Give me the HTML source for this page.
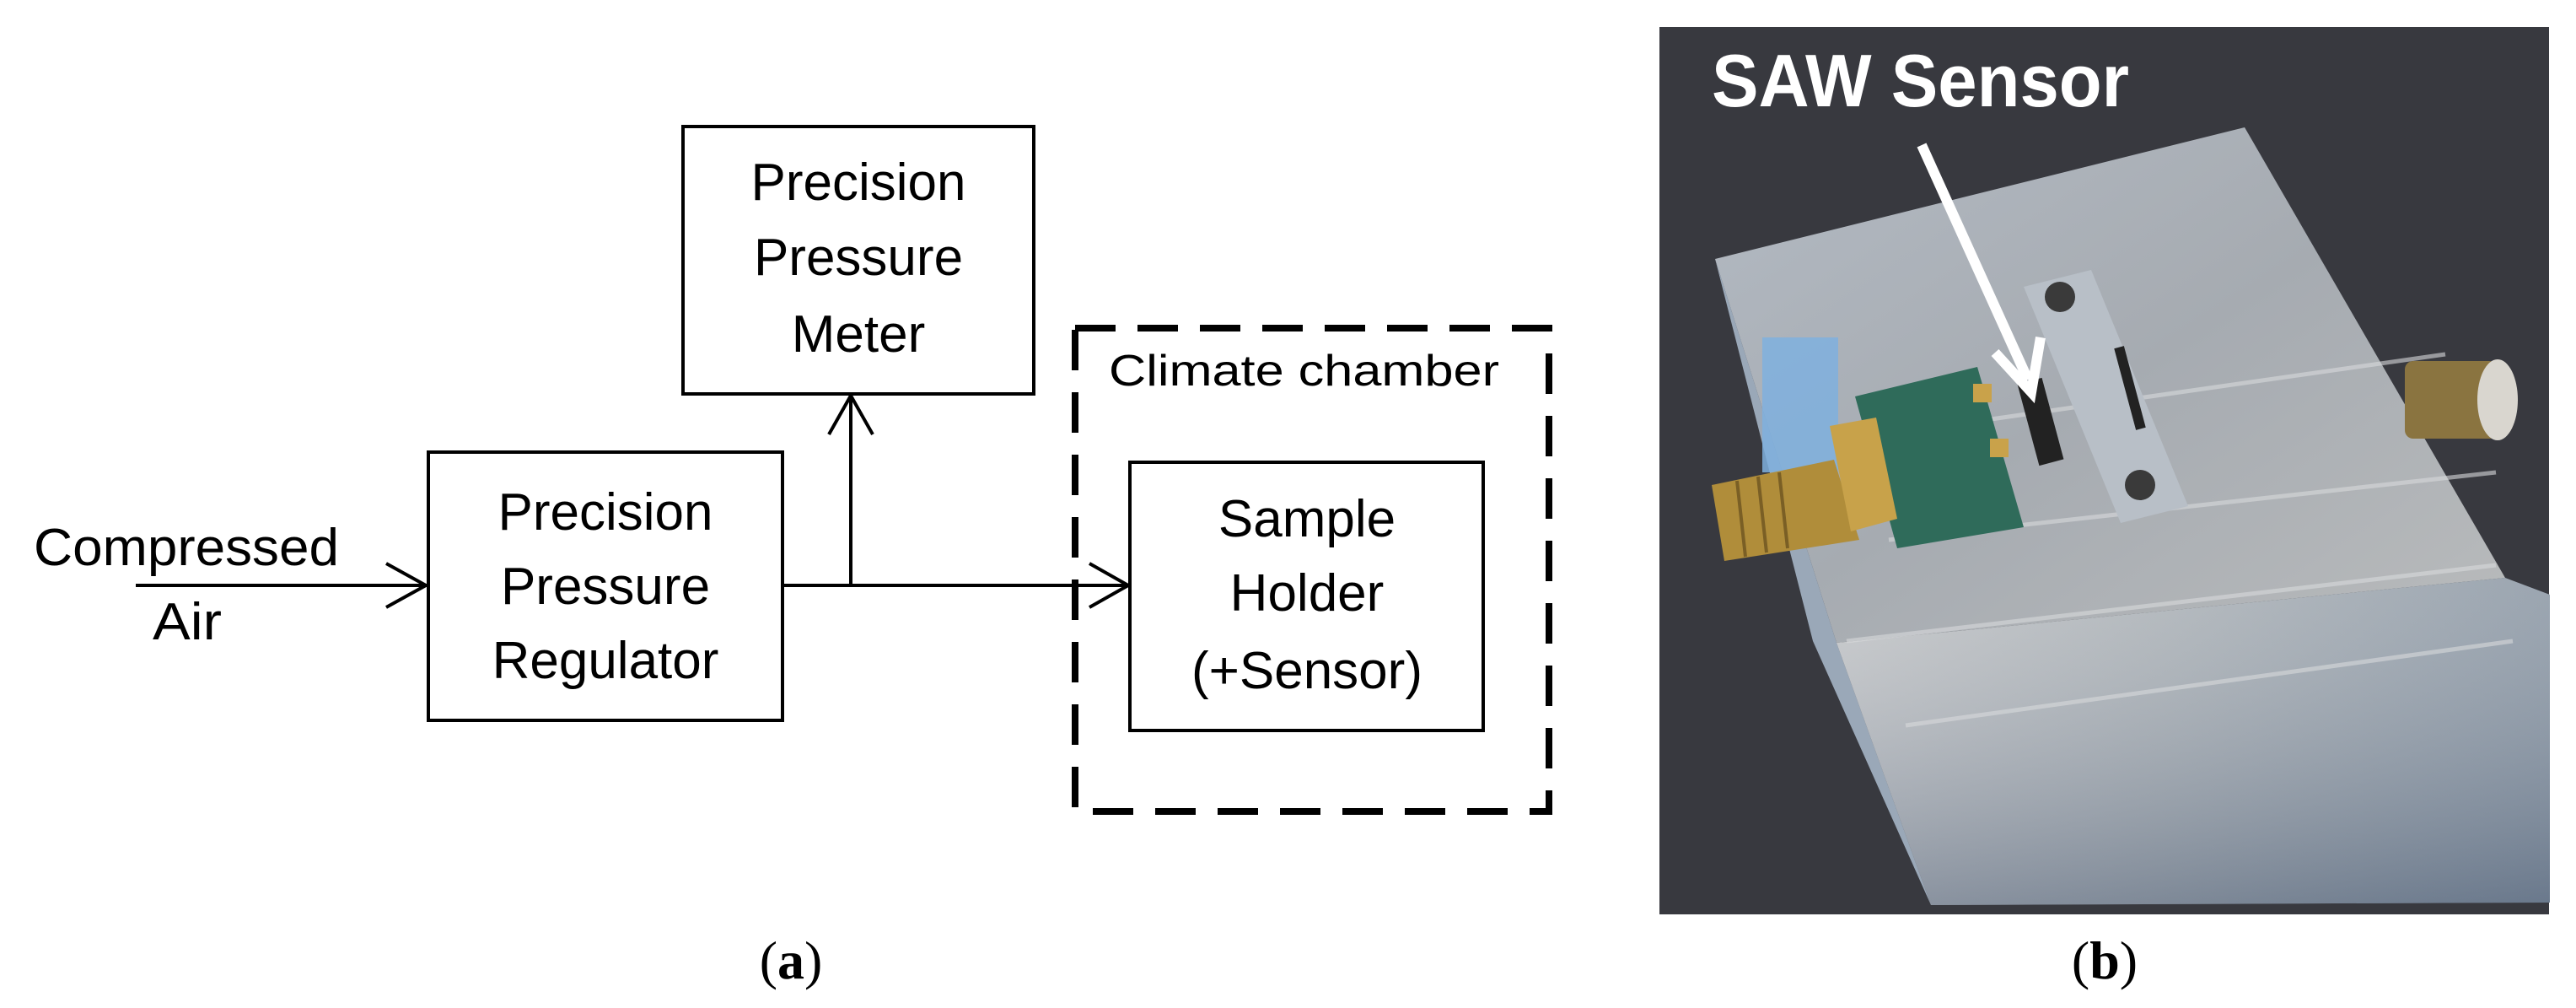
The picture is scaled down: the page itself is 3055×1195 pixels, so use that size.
<!DOCTYPE html>
<html><head><meta charset="utf-8"><style>
html,body{margin:0;padding:0;background:#fff;width:3055px;height:1195px;overflow:hidden}
svg{display:block}
.t{font-family:"Liberation Sans",sans-serif;font-size:62px;fill:#000}
</style></head><body>
<svg width="3055" height="1195" viewBox="0 0 3055 1195" xmlns="http://www.w3.org/2000/svg">
<rect width="3055" height="1195" fill="#fff"/>
<g fill="none" stroke="#000" stroke-width="4">
<rect x="810" y="150" width="416" height="317"/>
<rect x="508" y="536" width="420" height="318"/>
<rect x="1340" y="548" width="419" height="318"/>
<line x1="161" y1="694" x2="506" y2="694"/>
<polyline points="458,668 505,694 458,720"/>
<line x1="928" y1="694" x2="1338" y2="694"/>
<polyline points="1292,668 1338,694 1292,720"/>
<line x1="1009" y1="694" x2="1009" y2="469"/>
<polyline points="983,515 1009,469 1035,515"/>
<rect x="1275" y="389" width="562" height="573" stroke-width="8" stroke-dasharray="48,26"/>
</g>
<text class="t" x="40" y="670" textLength="362" lengthAdjust="spacingAndGlyphs">Compressed</text>
<text class="t" x="181" y="758" textLength="82" lengthAdjust="spacingAndGlyphs">Air</text>
<g class="t" text-anchor="middle">
<text class="t" x="1018" y="237">Precision</text>
<text class="t" x="1018" y="326">Pressure</text>
<text class="t" x="1018" y="417">Meter</text>
<text class="t" x="718" y="628">Precision</text>
<text class="t" x="718" y="716">Pressure</text>
<text class="t" x="718" y="804">Regulator</text>
<text class="t" x="1550" y="636">Sample</text>
<text class="t" x="1550" y="724">Holder</text>
<text class="t" x="1550" y="816">(+Sensor)</text>
</g>
<text class="t" x="1315" y="457" style="font-size:52px" textLength="463" lengthAdjust="spacingAndGlyphs">Climate chamber</text>
<text x="938" y="1160" text-anchor="middle" style="font-family:'Liberation Serif',serif;font-size:64px">(<tspan font-weight="bold">a</tspan>)</text>
<text x="2496" y="1160" text-anchor="middle" style="font-family:'Liberation Serif',serif;font-size:64px">(<tspan font-weight="bold">b</tspan>)</text>

<!-- photo -->
<defs>
<linearGradient id="top" x1="0" y1="0" x2="1" y2="1">
<stop offset="0" stop-color="#b3bac3"/><stop offset="0.5" stop-color="#a6abb1"/><stop offset="1" stop-color="#b9bbbc"/>
</linearGradient>
<linearGradient id="front" x1="0" y1="0" x2="1" y2="0">
<stop offset="0" stop-color="#c2c4c6"/><stop offset="0.45" stop-color="#aab0b5"/><stop offset="1" stop-color="#8a96a3"/>
</linearGradient>
<linearGradient id="frontv" x1="0" y1="0" x2="0" y2="1">
<stop offset="0" stop-color="#ffffff" stop-opacity="0.15"/><stop offset="1" stop-color="#2c4060" stop-opacity="0.35"/>
</linearGradient>
</defs>
<rect x="1968" y="32" width="1055" height="1052" fill="#38393f"/>
<polygon points="2034,307 2662,151 2971,685 2178,762" fill="url(#top)"/>
<polygon points="2034,307 2178,762 2290,1073 2150,760" fill="#9aa8b8"/>
<polygon points="2178,762 2971,685 3024,705 3024,1070 2290,1073" fill="url(#front)"/>
<polygon points="2178,762 2971,685 3024,705 3024,1070 2290,1073" fill="url(#frontv)"/>
<g stroke="#d8dadc" stroke-width="5" opacity="0.6">
<line x1="2200" y1="520" x2="2900" y2="420"/>
<line x1="2240" y1="640" x2="2960" y2="560"/>
<line x1="2190" y1="760" x2="2960" y2="670"/>
<line x1="2260" y1="860" x2="2980" y2="760"/>
</g>
<rect x="2852" y="428" width="110" height="92" fill="#8a7440" rx="10"/>
<ellipse cx="2962" cy="474" rx="24" ry="48" fill="#d9d6cf"/>
<rect x="2090" y="400" width="90" height="160" fill="#7fb0de" opacity="0.85"/>
<polygon points="2200,470 2345,435 2400,625 2250,650" fill="#2f6b5a"/>
<rect x="2340" y="455" width="22" height="22" fill="#c9a24a"/>
<rect x="2360" y="520" width="22" height="22" fill="#c9a24a"/>
<polygon points="2030,575 2175,545 2205,640 2045,665" fill="#b08d3a"/>
<polygon points="2170,505 2225,495 2250,615 2195,630" fill="#c8a24a"/>
<g stroke="#7a5f25" stroke-width="4">
<line x1="2060" y1="570" x2="2070" y2="660"/>
<line x1="2085" y1="565" x2="2095" y2="655"/>
<line x1="2110" y1="560" x2="2120" y2="650"/>
</g>
<polygon points="2400,340 2480,320 2595,600 2515,620" fill="#b8bfc7"/>
<rect x="2405" y="450" width="30" height="100" fill="#222" transform="rotate(-15 2420 500)"/>
<rect x="2520" y="410" width="12" height="100" fill="#222" transform="rotate(-15 2526 460)"/>
<circle cx="2443" cy="352" r="18" fill="#3a3a3a"/>
<circle cx="2538" cy="575" r="18" fill="#3a3a3a"/>
<text x="2030" y="126" style="font-family:'Liberation Sans',sans-serif;font-size:88px;font-weight:bold;fill:#fff" textLength="495" lengthAdjust="spacingAndGlyphs">SAW Sensor</text>
<line x1="2279" y1="172" x2="2405" y2="450" stroke="#fff" stroke-width="12"/>
<polyline points="2366,418 2409,465 2420,400" fill="none" stroke="#fff" stroke-width="12"/>
</svg>
</body></html>
